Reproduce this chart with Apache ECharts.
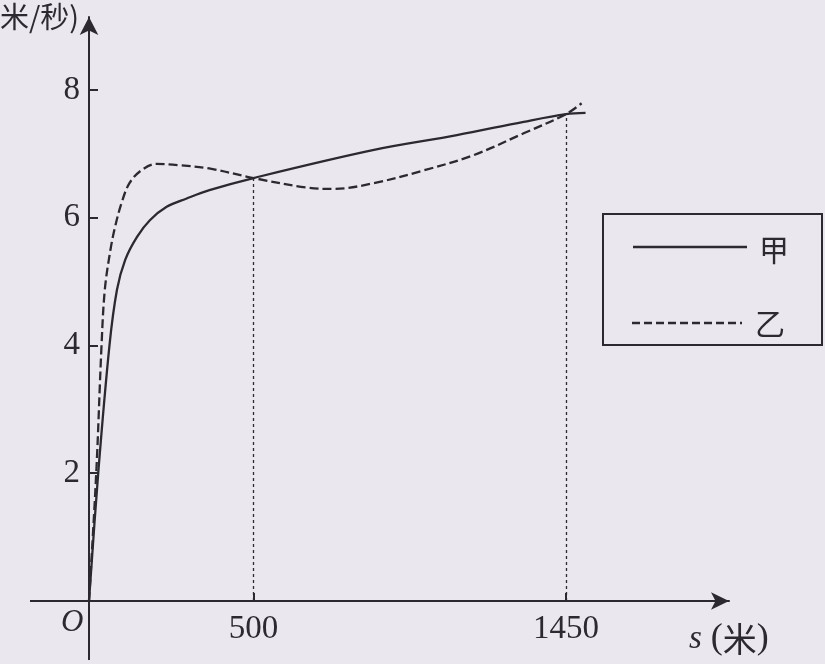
<!DOCTYPE html>
<html>
<head>
<meta charset="utf-8">
<script src="https://cdn.jsdelivr.net/npm/echarts@6/dist/echarts.min.js"></script>
<style>
html,body{margin:0;padding:0;background:#ebe7ee;}
#c{width:825px;height:664px;}
</style>
</head>
<body>
<div id="c"></div>
<script>
// distance s (米) and speed (米/秒) for 甲 (solid)
const jiaS = [0, 28, 62, 85, 110, 146, 185, 236, 297, 366, 500, 866, 1118, 1321, 1450, 1509];
const jiaV = [0, 2.0, 3.99, 4.87, 5.34, 5.70, 5.96, 6.17, 6.30, 6.43, 6.62, 7.06, 7.29, 7.50, 7.62, 7.64];
// 乙 (dashed)
const yiS = [0, 22, 38, 48, 65, 79, 99, 123, 159, 204, 274, 365, 500, 662, 744, 866, 1018, 1170, 1321, 1450, 1497];
const yiV = [0, 2.0, 3.99, 4.87, 5.49, 5.85, 6.23, 6.54, 6.74, 6.84, 6.82, 6.77, 6.62, 6.47, 6.45, 6.54, 6.74, 6.98, 7.32, 7.62, 7.79];
// tick labels
const xTicks = [500, 1450];
const yTicks = [2, 4, 6, 8];
// crossing points (s, v) marked by dotted guides
const crossS = [500, 1450];
const crossV = [6.62, 7.62];
const seriesNames = ['甲', '乙'];

const ink = '#2b2a30';
const serif = '"Liberation Serif", "DejaVu Serif", serif';
const cjk = '"Noto Sans CJK SC", sans-serif';

const chart = echarts.init(document.getElementById('c'), null, {renderer: 'canvas'});

const guides = crossS.map((s, i) => [{coord: [s, 0]}, {coord: [s, crossV[i]]}]);

// origin of the axes in pixels
const OX = 89, OY = 601;

chart.setOption({
  backgroundColor: '#ebe7ee',
  animation: false,
  grid: {left: OX, width: 640, top: 17, height: OY - 17, outerBoundsMode: 'none', containLabel: false},
  xAxis: {
    type: 'value', min: 0, max: 1945,
    splitLine: {show: false},
    axisLine: {show: true, onZero: false, symbol: ['none', 'arrow'], symbolSize: [13, 18],
      lineStyle: {color: ink, width: 2}},
    axisTick: {show: true, inside: true, length: 8, customValues: xTicks, lineStyle: {color: ink, width: 2}},
    axisLabel: {show: true, customValues: xTicks, margin: 12, fontFamily: serif, fontSize: 33, color: ink,
      formatter: v => String(v)}
  },
  yAxis: {
    type: 'value', min: 0, max: 9.14,
    splitLine: {show: false},
    axisLine: {show: true, onZero: false, symbol: ['none', 'arrow'], symbolSize: [14, 18],
      lineStyle: {color: ink, width: 2}},
    axisTick: {show: true, inside: true, length: 9, customValues: yTicks, lineStyle: {color: ink, width: 2}},
    axisLabel: {show: true, customValues: yTicks, margin: 9, fontFamily: serif, fontSize: 33, color: ink,
      formatter: v => String(v)}
  },
  series: [
    {
      name: seriesNames[0], type: 'line', showSymbol: false, symbol: 'none',
      smooth: 0.35,
      data: jiaS.map((s, i) => [s, jiaV[i]]),
      lineStyle: {color: ink, width: 2.3, type: 'solid'},
      markLine: {
        silent: true, symbol: 'none', label: {show: false},
        lineStyle: {color: ink, width: 1.3, type: [3, 3]},
        data: guides
      },
      z: 3
    },
    {
      name: seriesNames[1], type: 'line', showSymbol: false, symbol: 'none',
      smooth: 0.35,
      data: yiS.map((s, i) => [s, yiV[i]]),
      lineStyle: {color: ink, width: 2.3, type: [9, 4]},
      z: 3
    }
  ],
  graphic: [
    // axis stubs beyond the origin
    {type: 'line', shape: {x1: 30, y1: OY, x2: OX, y2: OY}, style: {stroke: ink, lineWidth: 2}},
    {type: 'line', shape: {x1: OX, y1: OY, x2: OX, y2: 660}, style: {stroke: ink, lineWidth: 2}},
    {type: 'text', left: 0, top: 2, style: {text: '米/秒)', font: '29px ' + cjk, fill: ink}},
    {type: 'text', left: 61, top: 607, style: {text: 'O', font: 'italic 31px ' + serif, fill: ink}},
    {type: 'text', left: 689, top: 621, style: {
      text: '{i|s}{p|(}{c|米}{p|)}', fill: ink,
      rich: {
        i: {fontFamily: serif, fontStyle: 'italic', fontSize: 33, color: ink, padding: [0, 9, 0, 0]},
        p: {fontFamily: serif, fontSize: 36, color: ink},
        c: {fontFamily: cjk, fontSize: 34, color: ink}
      }
    }},
    // legend box
    {type: 'rect', shape: {x: 603, y: 214, width: 219, height: 131},
      style: {fill: 'none', stroke: ink, lineWidth: 2}},
    {type: 'line', shape: {x1: 633, y1: 247, x2: 747, y2: 247},
      style: {stroke: ink, lineWidth: 2.3}},
    {type: 'text', x: 759, y: 250, style: {text: seriesNames[0], font: '30px ' + cjk, fill: ink, textVerticalAlign: 'middle'}},
    {type: 'line', shape: {x1: 632, y1: 323, x2: 742, y2: 323},
      style: {stroke: ink, lineWidth: 2.3, lineDash: [8, 4]}},
    {type: 'text', x: 755, y: 324, style: {text: seriesNames[1], font: '30px ' + cjk, fill: ink, textVerticalAlign: 'middle'}}
  ]
});
</script>
</body>
</html>
